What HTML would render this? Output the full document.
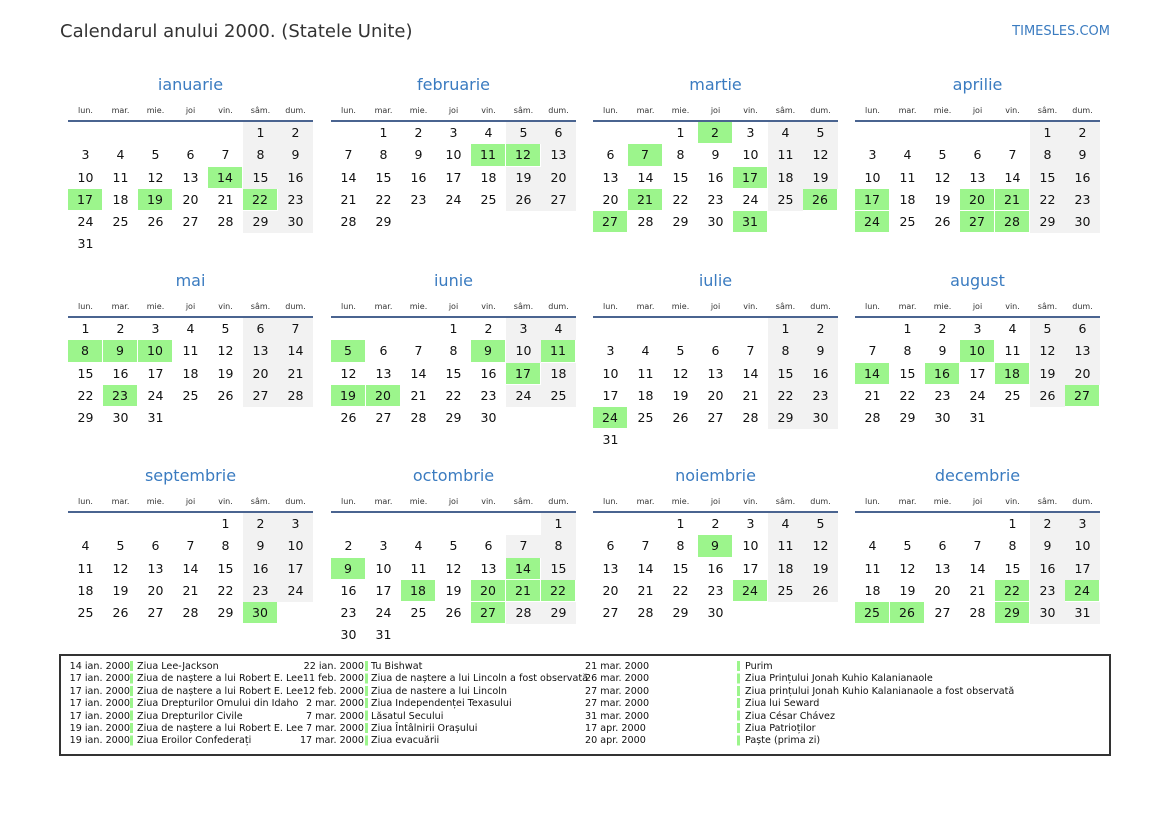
<!DOCTYPE html>
<html><head><meta charset="utf-8">
<style>
*{margin:0;padding:0;box-sizing:border-box}
body{width:1169px;height:827px;background:#fff;position:relative;font-family:"DejaVu Sans","Liberation Sans",sans-serif;color:#111;overflow:hidden}
.hd{position:absolute;left:60px;top:21px;font-size:18px;color:#333}
.ts{position:absolute;right:59px;top:24px;font-size:13px;color:#3a7bc0}
.m{position:absolute;width:245px}
.t{text-align:center;font-size:16px;color:#3a7bc0;height:26px;line-height:26px}
.wd{display:grid;grid-template-columns:repeat(7,35px);font-size:8px;color:#333;text-align:center;height:22px;line-height:26px}
.ln{height:2px;background:#4a6490}
.g7{display:grid;grid-template-columns:repeat(7,35px);grid-auto-rows:22.3px;font-size:12.5px;text-align:center;line-height:22.3px}
.g7 b{font-weight:normal}
.g7 .w{background:#f2f2f2}
.g7 .g{background:#9cf58c;margin:0 1px 1px 0}
.lg{position:absolute;left:59px;top:654px;width:1052px;height:102px;border:2px solid #333}
.c{position:absolute;top:661px;font-size:9.6px;line-height:12.4px;white-space:nowrap;color:#111}
.r{text-align:right}
.bar{position:absolute;top:661px;width:3px;height:87px;background:repeating-linear-gradient(#9cf58c 0 10px,transparent 10px 12.4px)}
</style></head><body>
<div class="hd">Calendarul anului 2000. (Statele Unite)</div>
<div class="ts">TIMESLES.COM</div>

<div class="m" style="left:68px;top:72px"><div class="t">ianuarie</div><div class="wd"><span>lun.</span><span>mar.</span><span>mie.</span><span>joi</span><span>vin.</span><span>sâm.</span><span>dum.</span></div><div class="ln"></div>
<div class="g7"><b class="w" style="grid-column:6">1</b><b class="w">2</b><b>3</b><b>4</b><b>5</b><b>6</b><b>7</b><b class="w">8</b><b class="w">9</b><b>10</b><b>11</b><b>12</b><b>13</b><b class="g">14</b><b class="w">15</b><b class="w">16</b><b class="g">17</b><b>18</b><b class="g">19</b><b>20</b><b>21</b><b class="g">22</b><b class="w">23</b><b>24</b><b>25</b><b>26</b><b>27</b><b>28</b><b class="w">29</b><b class="w">30</b><b>31</b></div></div>

<div class="m" style="left:331px;top:72px"><div class="t">februarie</div><div class="wd"><span>lun.</span><span>mar.</span><span>mie.</span><span>joi</span><span>vin.</span><span>sâm.</span><span>dum.</span></div><div class="ln"></div>
<div class="g7"><b style="grid-column:2">1</b><b>2</b><b>3</b><b>4</b><b class="w">5</b><b class="w">6</b><b>7</b><b>8</b><b>9</b><b>10</b><b class="g">11</b><b class="g">12</b><b class="w">13</b><b>14</b><b>15</b><b>16</b><b>17</b><b>18</b><b class="w">19</b><b class="w">20</b><b>21</b><b>22</b><b>23</b><b>24</b><b>25</b><b class="w">26</b><b class="w">27</b><b>28</b><b>29</b></div></div>

<div class="m" style="left:593px;top:72px"><div class="t">martie</div><div class="wd"><span>lun.</span><span>mar.</span><span>mie.</span><span>joi</span><span>vin.</span><span>sâm.</span><span>dum.</span></div><div class="ln"></div>
<div class="g7"><b style="grid-column:3">1</b><b class="g">2</b><b>3</b><b class="w">4</b><b class="w">5</b><b>6</b><b class="g">7</b><b>8</b><b>9</b><b>10</b><b class="w">11</b><b class="w">12</b><b>13</b><b>14</b><b>15</b><b>16</b><b class="g">17</b><b class="w">18</b><b class="w">19</b><b>20</b><b class="g">21</b><b>22</b><b>23</b><b>24</b><b class="w">25</b><b class="g">26</b><b class="g">27</b><b>28</b><b>29</b><b>30</b><b class="g">31</b></div></div>

<div class="m" style="left:855px;top:72px"><div class="t">aprilie</div><div class="wd"><span>lun.</span><span>mar.</span><span>mie.</span><span>joi</span><span>vin.</span><span>sâm.</span><span>dum.</span></div><div class="ln"></div>
<div class="g7"><b class="w" style="grid-column:6">1</b><b class="w">2</b><b>3</b><b>4</b><b>5</b><b>6</b><b>7</b><b class="w">8</b><b class="w">9</b><b>10</b><b>11</b><b>12</b><b>13</b><b>14</b><b class="w">15</b><b class="w">16</b><b class="g">17</b><b>18</b><b>19</b><b class="g">20</b><b class="g">21</b><b class="w">22</b><b class="w">23</b><b class="g">24</b><b>25</b><b>26</b><b class="g">27</b><b class="g">28</b><b class="w">29</b><b class="w">30</b></div></div>

<div class="m" style="left:68px;top:268px"><div class="t">mai</div><div class="wd"><span>lun.</span><span>mar.</span><span>mie.</span><span>joi</span><span>vin.</span><span>sâm.</span><span>dum.</span></div><div class="ln"></div>
<div class="g7"><b>1</b><b>2</b><b>3</b><b>4</b><b>5</b><b class="w">6</b><b class="w">7</b><b class="g">8</b><b class="g">9</b><b class="g">10</b><b>11</b><b>12</b><b class="w">13</b><b class="w">14</b><b>15</b><b>16</b><b>17</b><b>18</b><b>19</b><b class="w">20</b><b class="w">21</b><b>22</b><b class="g">23</b><b>24</b><b>25</b><b>26</b><b class="w">27</b><b class="w">28</b><b>29</b><b>30</b><b>31</b></div></div>

<div class="m" style="left:331px;top:268px"><div class="t">iunie</div><div class="wd"><span>lun.</span><span>mar.</span><span>mie.</span><span>joi</span><span>vin.</span><span>sâm.</span><span>dum.</span></div><div class="ln"></div>
<div class="g7"><b style="grid-column:4">1</b><b>2</b><b class="w">3</b><b class="w">4</b><b class="g">5</b><b>6</b><b>7</b><b>8</b><b class="g">9</b><b class="w">10</b><b class="g">11</b><b>12</b><b>13</b><b>14</b><b>15</b><b>16</b><b class="g">17</b><b class="w">18</b><b class="g">19</b><b class="g">20</b><b>21</b><b>22</b><b>23</b><b class="w">24</b><b class="w">25</b><b>26</b><b>27</b><b>28</b><b>29</b><b>30</b></div></div>

<div class="m" style="left:593px;top:268px"><div class="t">iulie</div><div class="wd"><span>lun.</span><span>mar.</span><span>mie.</span><span>joi</span><span>vin.</span><span>sâm.</span><span>dum.</span></div><div class="ln"></div>
<div class="g7"><b class="w" style="grid-column:6">1</b><b class="w">2</b><b>3</b><b>4</b><b>5</b><b>6</b><b>7</b><b class="w">8</b><b class="w">9</b><b>10</b><b>11</b><b>12</b><b>13</b><b>14</b><b class="w">15</b><b class="w">16</b><b>17</b><b>18</b><b>19</b><b>20</b><b>21</b><b class="w">22</b><b class="w">23</b><b class="g">24</b><b>25</b><b>26</b><b>27</b><b>28</b><b class="w">29</b><b class="w">30</b><b>31</b></div></div>

<div class="m" style="left:855px;top:268px"><div class="t">august</div><div class="wd"><span>lun.</span><span>mar.</span><span>mie.</span><span>joi</span><span>vin.</span><span>sâm.</span><span>dum.</span></div><div class="ln"></div>
<div class="g7"><b style="grid-column:2">1</b><b>2</b><b>3</b><b>4</b><b class="w">5</b><b class="w">6</b><b>7</b><b>8</b><b>9</b><b class="g">10</b><b>11</b><b class="w">12</b><b class="w">13</b><b class="g">14</b><b>15</b><b class="g">16</b><b>17</b><b class="g">18</b><b class="w">19</b><b class="w">20</b><b>21</b><b>22</b><b>23</b><b>24</b><b>25</b><b class="w">26</b><b class="g">27</b><b>28</b><b>29</b><b>30</b><b>31</b></div></div>

<div class="m" style="left:68px;top:463px"><div class="t">septembrie</div><div class="wd"><span>lun.</span><span>mar.</span><span>mie.</span><span>joi</span><span>vin.</span><span>sâm.</span><span>dum.</span></div><div class="ln"></div>
<div class="g7"><b style="grid-column:5">1</b><b class="w">2</b><b class="w">3</b><b>4</b><b>5</b><b>6</b><b>7</b><b>8</b><b class="w">9</b><b class="w">10</b><b>11</b><b>12</b><b>13</b><b>14</b><b>15</b><b class="w">16</b><b class="w">17</b><b>18</b><b>19</b><b>20</b><b>21</b><b>22</b><b class="w">23</b><b class="w">24</b><b>25</b><b>26</b><b>27</b><b>28</b><b>29</b><b class="g">30</b></div></div>

<div class="m" style="left:331px;top:463px"><div class="t">octombrie</div><div class="wd"><span>lun.</span><span>mar.</span><span>mie.</span><span>joi</span><span>vin.</span><span>sâm.</span><span>dum.</span></div><div class="ln"></div>
<div class="g7"><b class="w" style="grid-column:7">1</b><b>2</b><b>3</b><b>4</b><b>5</b><b>6</b><b class="w">7</b><b class="w">8</b><b class="g">9</b><b>10</b><b>11</b><b>12</b><b>13</b><b class="g">14</b><b class="w">15</b><b>16</b><b>17</b><b class="g">18</b><b>19</b><b class="g">20</b><b class="g">21</b><b class="g">22</b><b>23</b><b>24</b><b>25</b><b>26</b><b class="g">27</b><b class="w">28</b><b class="w">29</b><b>30</b><b>31</b></div></div>

<div class="m" style="left:593px;top:463px"><div class="t">noiembrie</div><div class="wd"><span>lun.</span><span>mar.</span><span>mie.</span><span>joi</span><span>vin.</span><span>sâm.</span><span>dum.</span></div><div class="ln"></div>
<div class="g7"><b style="grid-column:3">1</b><b>2</b><b>3</b><b class="w">4</b><b class="w">5</b><b>6</b><b>7</b><b>8</b><b class="g">9</b><b>10</b><b class="w">11</b><b class="w">12</b><b>13</b><b>14</b><b>15</b><b>16</b><b>17</b><b class="w">18</b><b class="w">19</b><b>20</b><b>21</b><b>22</b><b>23</b><b class="g">24</b><b class="w">25</b><b class="w">26</b><b>27</b><b>28</b><b>29</b><b>30</b></div></div>

<div class="m" style="left:855px;top:463px"><div class="t">decembrie</div><div class="wd"><span>lun.</span><span>mar.</span><span>mie.</span><span>joi</span><span>vin.</span><span>sâm.</span><span>dum.</span></div><div class="ln"></div>
<div class="g7"><b style="grid-column:5">1</b><b class="w">2</b><b class="w">3</b><b>4</b><b>5</b><b>6</b><b>7</b><b>8</b><b class="w">9</b><b class="w">10</b><b>11</b><b>12</b><b>13</b><b>14</b><b>15</b><b class="w">16</b><b class="w">17</b><b>18</b><b>19</b><b>20</b><b>21</b><b class="g">22</b><b class="w">23</b><b class="g">24</b><b class="g">25</b><b class="g">26</b><b>27</b><b>28</b><b class="g">29</b><b class="w">30</b><b class="w">31</b></div></div>

<div class="lg"></div>
<div class="c r" style="left:60px;width:70px">14 ian. 2000<br>17 ian. 2000<br>17 ian. 2000<br>17 ian. 2000<br>17 ian. 2000<br>19 ian. 2000<br>19 ian. 2000</div>
<div class="bar" style="left:130px"></div>
<div class="c" style="left:137px">Ziua Lee-Jackson<br>Ziua de naștere a lui Robert E. Lee<br>Ziua de naștere a lui Robert E. Lee<br>Ziua Drepturilor Omului din Idaho<br>Ziua Drepturilor Civile<br>Ziua de naștere a lui Robert E. Lee<br>Ziua Eroilor Confederați</div>
<div class="c r" style="left:290px;width:74px">22 ian. 2000<br>11 feb. 2000<br>12 feb. 2000<br>2 mar. 2000<br>7 mar. 2000<br>7 mar. 2000<br>17 mar. 2000</div>
<div class="bar" style="left:365px"></div>
<div class="c" style="left:371px">Tu Bishwat<br>Ziua de naștere a lui Lincoln a fost observată<br>Ziua de nastere a lui Lincoln<br>Ziua Independenței Texasului<br>Lăsatul Secului<br>Ziua Întâlnirii Orașului<br>Ziua evacuării</div>
<div class="c" style="left:585px">21 mar. 2000<br>26 mar. 2000<br>27 mar. 2000<br>27 mar. 2000<br>31 mar. 2000<br>17 apr. 2000<br>20 apr. 2000</div>
<div class="bar" style="left:737px"></div>
<div class="c" style="left:745px">Purim<br>Ziua Prințului Jonah Kuhio Kalanianaole<br>Ziua prințului Jonah Kuhio Kalanianaole a fost observată<br>Ziua lui Seward<br>Ziua César Chávez<br>Ziua Patrioților<br>Paște (prima zi)</div>
</body></html>
